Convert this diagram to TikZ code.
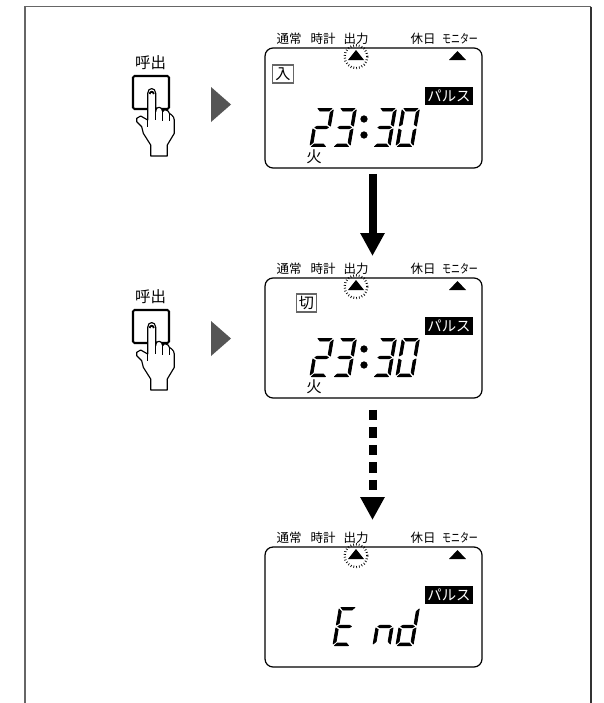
\documentclass[tikz,border=0pt]{standalone}
\usepackage{fontspec}
\newfontfamily\cjk{Noto Sans CJK JP}
\usetikzlibrary{arrows.meta}
\definecolor{ink}{HTML}{000000}
\definecolor{edge}{HTML}{666666}
\definecolor{play}{HTML}{555555}
% seven segments of one display digit
\newcommand{\lcda}{(2,.4) -- (16,.4) -- (13.5,3) -- (4.5,3) -- cycle}
\newcommand{\lcdb}{(17.6,2) -- (17.6,18) -- (15,16.5) -- (15,4.5) -- cycle}
\newcommand{\lcdc}{(17.6,21) -- (17.6,37) -- (15,34.5) -- (15,22.5) -- cycle}
\newcommand{\lcdd}{(2,38.6) -- (16,38.6) -- (13.5,36) -- (4.5,36) -- cycle}
\newcommand{\lcde}{(.4,21) -- (3,22.5) -- (3,34.5) -- (.4,37) -- cycle}
\newcommand{\lcdf}{(.4,2) -- (3,4.5) -- (3,16.5) -- (.4,18) -- cycle}
\newcommand{\lcdg}{(2.2,19.5) -- (4.5,18.2) -- (13.5,18.2) -- (15.8,19.5) -- (13.5,20.8) -- (4.5,20.8) -- cycle}
\tikzset{
  lcdpanel/.style={draw=ink,line width=.7pt,rounded corners=.16cm,minimum width=4.34cm,minimum height=2.4cm,inner sep=0pt,outer sep=0pt},
  toplab/.style={font=\cjk\fontsize{7.1}{7.5}\selectfont,inner sep=0pt,text=ink},
  biglab/.style={toplab,font=\cjk\fontsize{8.8}{9}\selectfont},
  pulsebox/.style={fill=ink,text=white,font=\cjk\fontsize{8.2}{8.2}\selectfont,minimum width=.96cm,minimum height=.36cm,inner sep=0pt},
  tagbox/.style={draw=edge,line width=.75pt,font=\cjk\fontsize{8.6}{8.6}\selectfont,minimum width=.41cm,minimum height=.36cm,inner sep=0pt},
  marker/.style={fill=ink},
  blink/.style={draw=ink,line width=1.3pt,dash pattern=on .4pt off 1.2pt},
  seglit/.style={fill=ink,draw=ink,line width=.45pt,line join=round},
  handline/.style={draw=ink,line width=.65pt,line join=round},
  bigarrow/.style={draw=ink,line width=.16cm,-{Triangle[length=.46cm,width=.46cm]}},
  lcdbase/.pic={
    \node[lcdpanel] (panel) at (108.5,60) {};
    \node[toplab] (normal) at (24,-9) {通常};
    \node[toplab] (clock) at (58,-9) {時計};
    \node[toplab] (output) at (91,-9) {出力};
    \node[toplab] (holiday) at (158,-9) {休日};
    \node[toplab,xscale=.72,transform shape] (monitor) at (195,-9) {モニター};
    \draw[blink] (91,8.7) circle[radius=11.4];
    \fill[marker] (91,2) -- (99,12) -- (83,12) -- cycle;
    \fill[marker] (192.5,3) -- (201,12) -- (184,12) -- cycle;
    \node[pulsebox] (pulse) at (184,48) {パルス};
  },
  lcddigit/.pic={
    \begin{scope}[xslant=.17]
      \foreach \s in {#1} {
        \filldraw[seglit] \csname lcd\s\endcsname;
      }
    \end{scope}
  },
  pushhand/.pic={
    \draw[draw=ink,line width=1.2pt,rounded corners=.03cm] (1,1) rectangle (37,34);
    \draw[handline,fill=white] (15.7,45) -- (15.7,18.3) .. controls (15.7,12) and (23.7,12) .. (23.7,18.3)
      -- (23.7,36.7) .. controls (24,33) and (26,32) .. (27.3,32.3) .. controls (29,32.5) and (30.5,34) .. (30.7,36.7)
      .. controls (31,35) and (33,34.5) .. (34,35) .. controls (36,35.5) and (37,36.5) .. (37.3,38.3)
      .. controls (38,38.5) and (39,39) .. (39.7,40) .. controls (41,41) and (42.3,43) .. (42.3,45)
      -- (42.3,58.3) -- (35.3,70) -- (35.3,81) -- (18.7,81) -- (18.7,70) -- (11.3,58.3) -- (9.7,51.7)
      -- (4.7,46.7) -- (4.7,43.3) -- (8.7,41) -- cycle;
    \draw[handline] (15.7,45) -- (15.7,52.3);
    \draw[handline] (23.7,36.7) -- (23.7,45);
    \draw[handline] (30.7,36.7) -- (30.7,45.7);
    \draw[handline] (37.3,38.3) -- (37.3,45.7);
    \draw[handline,line width=1pt] (17.6,19) .. controls (18,16) and (21.4,16) .. (21.8,19);
  }
}
\begin{document}
\begin{tikzpicture}[x=.02cm,y=-.02cm]
  \useasboundingbox (0,0) rectangle (604,703);
  % open frame
  \draw[edge,line width=1.1pt] (25,703) -- (25,6.5) -- (591,6.5);
  \draw[ink!80,line width=.6pt] (591,6.5) -- (591,703);

  % call button rows
  \foreach \n/\py in {a/75,b/309} {
    \node[biglab] (call\n) at (150.5,\py-12) {呼出};
    \pic at (132,\py) {pushhand};
    \fill[play] (211,\py+12) -- (231,\py+29.5) -- (211,\py+47) -- cycle;
  }

  % displays
  \pic (p1) at (265,48) {lcdbase};
  \pic (p2) at (265,278) {lcdbase};
  \pic (p3) at (265,547) {lcdbase};
  \node[tagbox] (tagin) at (283,74) {入};
  \node[tagbox] (tagoff) at (306.5,303) {切};
  \node[biglab] (daya) at (314,157) {火};
  \node[biglab] (dayb) at (314,387) {火};

  \foreach \py in {108,338} {
    \pic at (316,\py) {lcddigit={a,b,g,e,d}};
    \pic at (339,\py) {lcddigit={a,b,g,c,d}};
    \fill[seglit] (364,\py+11) circle[radius=3.2];
    \fill[seglit] (364,\py+27) circle[radius=3.2];
    \pic at (379,\py) {lcddigit={a,b,g,c,d}};
    \pic at (402,\py) {lcddigit={a,b,c,d,e,f}};
  }
  \pic at (339,607) {lcddigit={a,f,g,e,d}};
  \pic at (379,607) {lcddigit={g,e,c}};
  \pic at (402,607) {lcddigit={b,c,d,e,g}};

  % flow arrows
  \draw[bigarrow,shorten <=.12cm,shorten >=.44cm] ([xshift=-.02cm]p1panel.south) -- ([xshift=-.02cm]p2panel.north);
  \draw[bigarrow,dash pattern=on .21cm off .14cm,shorten <=.24cm,shorten >=.54cm] ([xshift=-.02cm]p2panel.south) -- ([xshift=-.02cm]p3panel.north);
\end{tikzpicture}
\end{document}
